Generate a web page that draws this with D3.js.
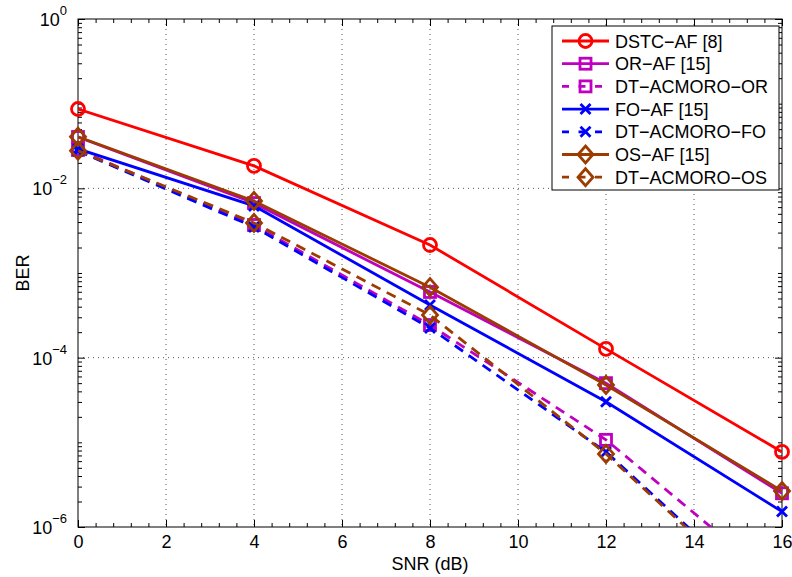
<!DOCTYPE html>
<html><head><meta charset="utf-8">
<script src="https://cdn.jsdelivr.net/npm/d3@7"></script>
<style>body{margin:0;background:#fff}svg{display:block;font-family:"Liberation Sans",Arial,sans-serif}</style>
</head><body><svg id="c" width="792" height="577"></svg>
<script>
const snr = [0, 4, 8, 12, 16];
const seriesNames = ["DSTC\u2212AF [8]", "OR\u2212AF [15]", "DT\u2212ACMORO\u2212OR", "FO\u2212AF [15]", "DT\u2212ACMORO\u2212FO", "OS\u2212AF [15]", "DT\u2212ACMORO\u2212OS"];
const dstcAF = [0.0865, 0.0184, 2.14e-3, 1.27e-4, 7.7e-6];
const orAF = [0.0404, 6.7e-3, 5.97e-4, 5.0e-5, 2.5e-6];
const dtOR = [0.0284, 3.69e-3, 2.43e-4, 1.07e-5, 2.0e-7];
const foAF = [0.0292, 6.2e-3, 4.19e-4, 3.02e-5, 1.52e-6];
const dtFO = [0.0276, 3.5e-3, 2.24e-4, 7.7e-6, 9.6e-8];
const osAF = [0.0407, 7.1e-3, 6.8e-4, 4.76e-5, 2.66e-6];
const dtOS = [0.0278, 3.9e-3, 3.19e-4, 7.3e-6, 9.0e-8];
const xTicks = [0, 2, 4, 6, 8, 10, 12, 14, 16];
const yTickExps = [0, -2, -4, -6];

const styles = [
  {color:"#ff0000", dash:null, marker:"circle"},
  {color:"#bf00bf", dash:null, marker:"square"},
  {color:"#bf00bf", dash:"10,7", marker:"square"},
  {color:"#0000ff", dash:null, marker:"x"},
  {color:"#0000ff", dash:"10,7", marker:"x"},
  {color:"#9c3c00", dash:null, marker:"diamond"},
  {color:"#9c3c00", dash:"10,7", marker:"diamond"}
];
const allData = [dstcAF, orAF, dtOR, foAF, dtFO, osAF, dtOS];

const svg = d3.select("#c");
const L = 78, R = 782, T = 19, B = 527;
const FS = 18;
const x = d3.scaleLinear().domain([0, 16]).range([L, R]);
const y = d3.scaleLog().domain([1e-6, 1]).range([B, T]);

// grid
const grid = svg.append("g").attr("stroke", "#555").attr("stroke-width", 1).attr("stroke-dasharray", "1,4");
xTicks.slice(1, -1).forEach(t => grid.append("line").attr("x1", x(t)).attr("x2", x(t)).attr("y1", T).attr("y2", B));
yTickExps.slice(1, -1).forEach(e => grid.append("line").attr("x1", L).attr("x2", R).attr("y1", y(Math.pow(10, e))).attr("y2", y(Math.pow(10, e))));

// axes via d3 axis with inward ticks
const minorX = d3.range(0, 16.001, 0.4).filter(v => Math.abs(v/2 - Math.round(v/2)) > 1e-6);
const minorY = [];
for (let e = -6; e < 0; e++) for (let k = 1; k < 10; k++) { if (k === 1 && e % 2 === 0) continue; minorY.push(k * Math.pow(10, e)); }

function styleAxis(g){ g.select(".domain").remove(); g.selectAll("line").attr("stroke", "#000"); }
svg.append("g").attr("transform", `translate(0,${B})`).call(d3.axisBottom(x).tickValues(xTicks).tickSize(-7).tickFormat(d3.format("d")).tickPadding(8))
  .call(g => { styleAxis(g); g.selectAll("text").attr("font-size", FS).attr("font-family", '"Liberation Sans",Arial,sans-serif').attr("fill", "#000"); });
svg.append("g").attr("transform", `translate(0,${B})`).call(d3.axisBottom(x).tickValues(minorX).tickSize(-4).tickFormat("")).call(styleAxis);
svg.append("g").attr("transform", `translate(0,${T})`).call(d3.axisTop(x).tickValues(xTicks).tickSize(-7).tickFormat("")).call(styleAxis);
svg.append("g").attr("transform", `translate(0,${T})`).call(d3.axisTop(x).tickValues(minorX).tickSize(-4).tickFormat("")).call(styleAxis);
const yMajor = yTickExps.map(e => Math.pow(10, e));
svg.append("g").attr("transform", `translate(${L},0)`).call(d3.axisLeft(y).tickValues(yMajor).tickSize(-7).tickFormat("")).call(styleAxis);
svg.append("g").attr("transform", `translate(${L},0)`).call(d3.axisLeft(y).tickValues(minorY).tickSize(-4).tickFormat("")).call(styleAxis);
svg.append("g").attr("transform", `translate(${R},0)`).call(d3.axisRight(y).tickValues(yMajor).tickSize(-7).tickFormat("")).call(styleAxis);
svg.append("g").attr("transform", `translate(${R},0)`).call(d3.axisRight(y).tickValues(minorY).tickSize(-4).tickFormat("")).call(styleAxis);

// y tick labels with superscripts
yTickExps.forEach(e => {
  const t = svg.append("text").attr("x", 67).attr("y", y(Math.pow(10, e)) + 7).attr("text-anchor", "end").attr("font-size", FS);
  t.append("tspan").text("10");
  t.append("tspan").attr("dy", -11).attr("font-size", 13).text(e === 0 ? "0" : "\u2212" + (-e));
});

// box
svg.append("rect").attr("x", L).attr("y", T).attr("width", R - L).attr("height", B - T).attr("fill", "none").attr("stroke", "#000").attr("stroke-width", 1);

// labels
svg.append("text").attr("x", (L + R) / 2).attr("y", 570).attr("text-anchor", "middle").attr("font-size", FS).text("SNR (dB)");
svg.append("text").attr("transform", `translate(29,${(T + B) / 2}) rotate(-90)`).attr("text-anchor", "middle").attr("font-size", FS).text("BER");

// clip
svg.append("clipPath").attr("id", "pc").append("rect").attr("x", L).attr("y", T).attr("width", R - L).attr("height", B - T);

function drawMarker(g, type, cx, cy, color){
  const sw = 2.8;
  if (type === "circle") g.append("circle").attr("cx", cx).attr("cy", cy).attr("r", 6.5).attr("fill", "none").attr("stroke", color).attr("stroke-width", sw);
  else if (type === "square") g.append("rect").attr("x", cx - 5.5).attr("y", cy - 5.5).attr("width", 11).attr("height", 11).attr("fill", "none").attr("stroke", color).attr("stroke-width", sw);
  else if (type === "diamond") g.append("path").attr("d", `M${cx},${cy-8.5}L${cx+7.5},${cy}L${cx},${cy+8.5}L${cx-7.5},${cy}Z`).attr("fill", "none").attr("stroke", color).attr("stroke-width", sw);
  else if (type === "x") g.append("path").attr("d", `M${cx-5},${cy-5}L${cx+5},${cy+5}M${cx-5},${cy+5}L${cx+5},${cy-5}`).attr("fill", "none").attr("stroke", color).attr("stroke-width", sw);
}

const line = d3.line().x((d, i) => x(snr[i])).y(d => y(d));
allData.forEach((data, si) => {
  const s = styles[si];
  const g = svg.append("g");
  g.append("path").datum(data).attr("d", line).attr("fill", "none").attr("stroke", s.color).attr("stroke-width", 2.8)
    .attr("stroke-dasharray", s.dash).attr("clip-path", "url(#pc)");
  data.forEach((v, i) => { if (v >= 1e-6) drawMarker(g, s.marker, x(snr[i]), y(v), s.color); });
});

// legend
const lg = svg.append("g");
lg.append("rect").attr("x", 552).attr("y", 26).attr("width", 227).attr("height", 164).attr("fill", "#fff").attr("stroke", "#000").attr("stroke-width", 1);
seriesNames.forEach((n, i) => {
  const s = styles[i];
  const yy = 41 + i * 22.7;
  lg.append("line").attr("x1", 562).attr("x2", 609).attr("y1", yy).attr("y2", yy).attr("stroke", s.color).attr("stroke-width", 2.8).attr("stroke-dasharray", s.dash ? "7,9.5" : null);
  drawMarker(lg, s.marker, 585.5, yy, s.color);
  lg.append("text").attr("x", 615).attr("y", yy + 6.5).attr("font-size", FS).text(n);
});
</script></body></html>
